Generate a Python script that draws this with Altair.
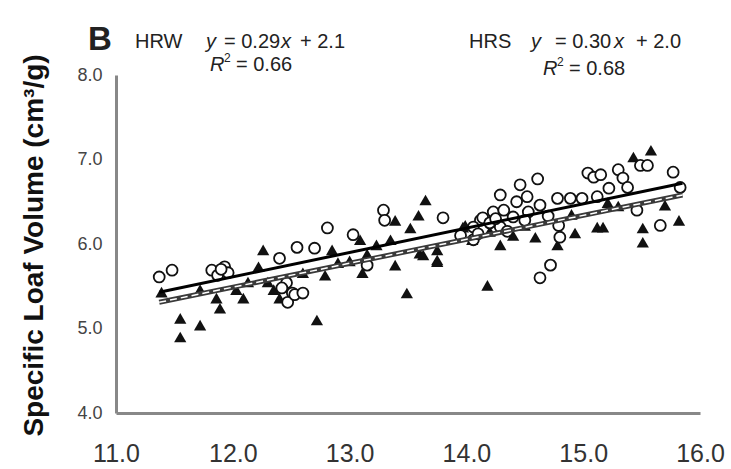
import altair as alt
import pandas as pd

# HRW (open circles)
hrw_x = [11.37, 11.48, 11.82, 11.87, 11.93, 11.96, 11.90, 12.40, 12.55, 12.70, 12.81, 13.03,
         13.15, 13.29, 13.30, 12.46, 12.51, 12.47, 12.53, 12.60, 12.42, 13.80, 14.06, 14.12,
         14.29, 14.46, 14.61, 14.52, 14.43, 14.23, 14.14, 14.06, 14.29, 14.40, 14.53, 14.63,
         14.78, 14.89, 14.99, 15.12, 15.22, 15.04, 15.09, 15.15, 15.30, 15.34, 15.38, 15.49,
         15.55, 15.77, 15.83, 15.46, 15.66, 14.79, 14.80, 14.72, 14.63, 14.20, 14.35, 14.10,
         14.50, 14.70, 13.95, 14.32, 14.25]
hrw_y = [5.61, 5.69, 5.69, 5.63, 5.73, 5.66, 5.70, 5.83, 5.96, 5.95, 6.19, 6.11,
         5.75, 6.40, 6.28, 5.54, 5.42, 5.31, 5.40, 5.42, 5.48, 6.31, 6.05, 6.28,
         6.58, 6.70, 6.77, 6.56, 6.50, 6.38, 6.31, 6.20, 6.20, 6.32, 6.38, 6.46,
         6.54, 6.54, 6.54, 6.56, 6.66, 6.84, 6.79, 6.82, 6.88, 6.78, 6.67, 6.93,
         6.93, 6.85, 6.67, 6.40, 6.22, 6.22, 6.08, 5.75, 5.60, 6.25, 6.15, 6.12,
         6.28, 6.33, 6.10, 6.40, 6.30]

# HRS (filled triangles)
hrs_x = [11.39, 11.55, 11.55, 11.72, 11.89, 11.86, 12.03, 12.09, 12.72, 12.26, 12.22, 12.35,
         12.40, 11.72, 12.13, 13.65, 13.59, 13.52, 13.39, 13.09, 13.11, 12.85, 12.79,
         13.49, 13.35, 13.39, 13.23, 13.75, 13.75, 13.60, 13.99, 14.18, 14.29, 14.59, 14.78,
         14.93, 15.12, 15.17, 15.21, 15.51, 15.51, 15.43, 15.58, 15.70, 15.82, 13.97, 13.75,
         13.63, 14.40, 14.05, 14.50, 14.90, 15.30, 13.00, 12.90, 12.60, 12.30, 13.15, 14.20]
hrs_y = [5.43, 5.12, 4.90, 5.04, 5.24, 5.36, 5.46, 5.36, 5.10, 5.93, 5.73, 5.46,
         5.36, 5.46, 5.55, 6.52, 6.34, 6.19, 6.28, 6.05, 5.66, 5.93, 5.63,
         5.42, 6.05, 5.75, 5.99, 5.93, 5.81, 5.89, 6.22, 5.51, 5.99, 6.08, 5.99,
         6.13, 6.20, 6.20, 6.49, 6.19, 6.02, 7.03, 7.11, 6.46, 6.28, 6.20, 5.79,
         5.87, 6.10, 6.05, 6.22, 6.35, 6.45, 5.80, 5.78, 5.66, 5.55, 5.88, 6.15]

# regression line end points
line_x = [11.37, 15.85]
hrw_line = [5.43, 6.72]
hrs_line = [5.31, 6.58]

FONT = "Liberation Sans"
W, H = 584, 338

circ = pd.DataFrame({"x": hrw_x, "y": hrw_y})
tri = pd.DataFrame({"x": hrs_x, "y": hrs_y})
l1 = pd.DataFrame({"x": line_x, "y": hrw_line})
l2 = pd.DataFrame({"x": line_x, "y": hrs_line})

xs = alt.Scale(domain=[11, 16], nice=False, zero=False)
ys = alt.Scale(domain=[4, 8], nice=False, zero=False)

xenc = alt.X("x:Q", scale=xs, axis=alt.Axis(
    values=[11, 12, 13, 14, 15, 16], format=".1f", title=None, grid=False, ticks=False,
    labelFontSize=25, labelColor="#333", labelPadding=28, labelFont=FONT,
    domainColor="#888", domainWidth=3, labelFlush=False))
yenc = alt.Y("y:Q", scale=ys, axis=alt.Axis(
    values=[4, 5, 6, 7, 8], format=".1f", grid=False, ticks=False,
    labelFontSize=18, labelColor="#444", labelPadding=14, labelFont=FONT,
    domainColor="#888", domainWidth=3,
    title="Specific Loaf Volume (cm³/g)", titleFont=FONT, titleFontSize=28,
    titleFontWeight="bold", titleColor="#111", titleAngle=-90,
    titleX=-82, titleY=170, titleAlign="center", titleBaseline="middle"))

tri_m = alt.Chart(tri).mark_point(shape="triangle-up", filled=True, color="#111",
                                  size=150, opacity=1).encode(x=xenc, y=yenc)
circ_m = alt.Chart(circ).mark_point(shape="circle", filled=True, fill="white",
                                    stroke="#111", strokeWidth=1.8, size=120,
                                    opacity=1).encode(x=xenc, y=yenc)
line1 = alt.Chart(l1).mark_line(color="#000", strokeWidth=3).encode(x=xenc, y=yenc)
line2a = alt.Chart(l2).mark_line(color="#3a3a3a", strokeWidth=5).encode(x=xenc, y=yenc)
line2b = alt.Chart(l2).mark_line(color="white", strokeWidth=1.5,
                                 strokeDash=[7, 4]).encode(x=xenc, y=yenc)

OX, OY = 116, 75


def txt(s, x, y, size=20, style="normal", weight="normal", align="left"):
    return alt.Chart(pd.DataFrame({"t": [s]})).mark_text(
        font=FONT, fontSize=size, fontStyle=style, fontWeight=weight,
        align=align, baseline="middle", color="#222"
    ).encode(text="t:N", x=alt.value(x - OX), y=alt.value(y - OY))


texts = [
    txt("B", 100, 40, size=33, weight="bold", align="center"),
    txt("HRW", 135, 42), txt("y", 206, 42, style="italic"),
    txt("= 0.29", 224, 42), txt("x", 281, 42, style="italic"), txt("+ 2.1", 300, 42),
    txt("R", 210, 65, style="italic"), txt("2", 224, 58, size=12), txt("= 0.66", 236, 65),
    txt("HRS", 469, 42), txt("y", 531, 42, style="italic"),
    txt("= 0.30", 555, 42), txt("x", 614, 42, style="italic"), txt("+ 2.0", 636, 42),
    txt("R", 543, 69, style="italic"), txt("2", 557, 62, size=12), txt("= 0.68", 569, 69),
]

chart = alt.layer(tri_m, circ_m, line2a, line2b, line1, *texts).properties(
    width=W, height=H,
    autosize=alt.AutoSizeParams(type="none"),
    padding={"left": OX, "top": OY, "right": 731 - OX - W, "bottom": 469 - OY - H},
    background="white",
).configure_view(stroke=None)

chart.save("out.html", embed_options={"renderer": "svg", "actions": False})
